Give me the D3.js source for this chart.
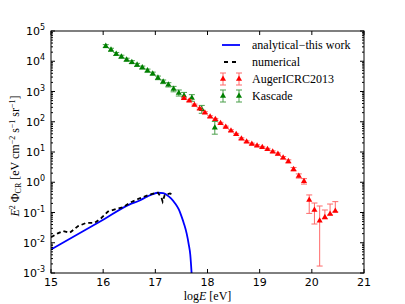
<!DOCTYPE html>
<html>
<head>
<meta charset="utf-8">
<script src="https://cdn.jsdelivr.net/npm/d3@7"></script>
<style>
    body { margin: 0; background: #fff; }
    svg text { fill: #000; }
    .tickLabel { font-family: "DejaVu Sans", sans-serif; font-size: 11px; }
    .serif { font-family: "Liberation Serif", "DejaVu Serif", serif; font-size: 12px; }
</style>
</head>
<body>
<div id="chart"></div>
<script>
// ---- data ----
// analytical (this work), log10 E and flux
const analyticalLogE = [15.0, 16.0, 16.5, 16.7, 16.85, 16.95, 17.05, 17.15, 17.22, 17.3, 17.38, 17.45, 17.5, 17.55, 17.6, 17.64, 17.67, 17.695];
const analyticalFlux = [6.0e-3, 5.75e-2, 0.182, 0.25, 0.34, 0.405, 0.45, 0.435, 0.38, 0.295, 0.20, 0.126, 0.076, 0.042, 0.0204, 0.0089, 0.004, 0.001];

// numerical
const numericalLogE = [15.0, 15.13, 15.23, 15.36, 15.52, 15.68, 15.84, 15.96, 16.09, 16.25, 16.38, 16.51, 16.7, 16.9, 17.05, 17.12, 17.14, 17.18, 17.28, 17.34];
const numericalFlux = [0.0151, 0.0204, 0.0245, 0.0214, 0.0355, 0.0457, 0.0457, 0.0646, 0.107, 0.132, 0.148, 0.211, 0.295, 0.398, 0.452, 0.295, 0.229, 0.38, 0.427, 0.38];

// Auger ICRC 2013
const augerLogE = [17.55, 17.65, 17.75, 17.85, 17.95, 18.05, 18.15, 18.25, 18.35, 18.45, 18.55, 18.65, 18.75, 18.85, 18.95,
    19.05, 19.15, 19.25, 19.35, 19.45, 19.55, 19.65, 19.75, 19.85, 19.95, 20.05, 20.15, 20.25, 20.35, 20.45];
const augerFlux = [596, 497, 358, 270, 200, 147, 120, 89.1, 67.0, 50.6, 38.5, 27.5, 21.9, 18.4, 16.2,
    14.3, 12.3, 10.2, 8.59, 6.46, 4.90, 2.68, 1.61, 1.07, 0.259, 0.121, 0.0537, 0.0692, 0.0891, 0.112];
// error half widths in dex
const augerErrUp = [0.03, 0.03, 0.03, 0.03, 0.03, 0.03, 0.03, 0.03, 0.03, 0.03, 0.03, 0.03, 0.03, 0.03, 0.03,
    0.03, 0.03, 0.03, 0.035, 0.04, 0.05, 0.06, 0.07, 0.09, 0.167, 0.231, 0.485, 0.243, 0.33, 0.31];
const augerErrDown = [0.03, 0.03, 0.03, 0.03, 0.03, 0.03, 0.03, 0.03, 0.03, 0.03, 0.03, 0.03, 0.03, 0.03, 0.03,
    0.03, 0.03, 0.03, 0.035, 0.04, 0.05, 0.06, 0.07, 0.09, 0.443, 0.463, 1.50, 0.055, 0.03, 0.03];

// Kascade
const kascadeLogE = [16.05, 16.15, 16.25, 16.35, 16.45, 16.55, 16.65, 16.75, 16.85, 16.95, 17.05, 17.15, 17.25, 17.35, 17.45, 17.55, 17.70, 17.89, 18.14];
const kascadeFlux = [31600, 24000, 17400, 14100, 11200, 9330, 7590, 6170, 4900, 3890, 2820, 2090, 1660, 1200, 891, 724, 610, 257, 63];
const kascadeErr = [0.05, 0.05, 0.05, 0.05, 0.05, 0.05, 0.05, 0.05, 0.05, 0.05, 0.06, 0.06, 0.07, 0.09, 0.1, 0.11, 0.11, 0.13, 0.21];

const xTicks = [15, 16, 17, 18, 19, 20, 21];
const yExponents = [-3, -2, -1, 0, 1, 2, 3, 4, 5];

const legendLabels = ["analytical\u2212this work", "numerical", "AugerICRC2013", "Kascade"];

// ---- chart ----
const width = 405, height = 304;
const margin = {top: 31, right: 41, bottom: 31, left: 51};
const plotW = width - margin.left - margin.right;
const plotH = height - margin.top - margin.bottom;

const svg = d3.select("#chart").append("svg")
    .attr("width", width)
    .attr("height", height)
;
const g = svg.append("g")
    .attr("transform", "translate(" + margin.left + "," + margin.top + ")")
;

const xScale = d3.scaleLinear().domain([15, 21]).range([0, plotW]);
const yScale = d3.scaleLog().domain([1e-3, 1e5]).range([plotH, 0]);

g.append("clipPath").attr("id", "clip")
    .append("rect").attr("width", plotW).attr("height", plotH);

const plot = g.append("g").attr("clip-path", "url(#clip)");

// curves
const line = d3.line()
    .x(d => xScale(d[0]))
    .y(d => yScale(d[1]))
;
plot.append("path")
    .datum(analyticalLogE.map((e, i) => [e, analyticalFlux[i]]))
    .attr("d", line.curve(d3.curveMonotoneX))
    .attr("fill", "none")
    .attr("stroke", "#0000ff")
    .attr("stroke-width", 1.8)
;
plot.append("path")
    .datum(numericalLogE.map((e, i) => [e, numericalFlux[i]]))
    .attr("d", line.curve(d3.curveLinear))
    .attr("fill", "none")
    .attr("stroke", "#000")
    .attr("stroke-width", 1.8)
    .attr("stroke-dasharray", "4,3")
;

const triangle = d3.symbol().type(d3.symbolTriangle).size(16);

function drawErrorPoints(parent, data, color, barColor){
    const pg = parent.selectAll(null)
        .data(data)
        .join("g")
        .attr("transform", d => "translate(" + xScale(d.e) + ",0)")
    ;
    pg.append("line")
        .attr("y1", d => yScale(d.f * Math.pow(10, d.up)))
        .attr("y2", d => yScale(d.f / Math.pow(10, d.down)))
        .attr("stroke", barColor).attr("stroke-width", 1)
    ;
    pg.append("line")
        .attr("x1", -3).attr("x2", 3)
        .attr("y1", d => yScale(d.f * Math.pow(10, d.up)))
        .attr("y2", d => yScale(d.f * Math.pow(10, d.up)))
        .attr("stroke", barColor).attr("stroke-width", 1)
    ;
    pg.append("line")
        .attr("x1", -3).attr("x2", 3)
        .attr("y1", d => yScale(d.f / Math.pow(10, d.down)))
        .attr("y2", d => yScale(d.f / Math.pow(10, d.down)))
        .attr("stroke", barColor).attr("stroke-width", 1)
    ;
    pg.append("path")
        .attr("d", triangle)
        .attr("transform", d => "translate(0," + yScale(d.f) + ")")
        .attr("fill", color)
    ;
}

drawErrorPoints(plot,
    kascadeLogE.map((e, i) => ({e: e, f: kascadeFlux[i], up: kascadeErr[i], down: kascadeErr[i]})),
    "#008000", "#4a9f4a");
drawErrorPoints(plot,
    augerLogE.map((e, i) => ({e: e, f: augerFlux[i], up: augerErrUp[i], down: augerErrDown[i]})),
    "#ff0000", "#ff6a6a");

// frame
g.append("rect")
    .attr("width", plotW).attr("height", plotH)
    .attr("fill", "none").attr("stroke", "#000").attr("stroke-width", 1)
;

// x ticks (inward, bottom and top)
const xt = g.append("g");
xTicks.forEach(t => {
    const x = xScale(t);
    xt.append("line").attr("x1", x).attr("x2", x).attr("y1", plotH).attr("y2", plotH - 4).attr("stroke", "#000");
    xt.append("line").attr("x1", x).attr("x2", x).attr("y1", 0).attr("y2", 4).attr("stroke", "#000");
    xt.append("text").attr("class", "tickLabel")
        .attr("x", x).attr("y", plotH + 13)
        .attr("text-anchor", "middle")
        .text(t)
    ;
});

// y ticks with log minors
const yt = g.append("g");
yExponents.forEach(p => {
    const y = yScale(Math.pow(10, p));
    yt.append("line").attr("x1", 0).attr("x2", 4).attr("y1", y).attr("y2", y).attr("stroke", "#000");
    yt.append("line").attr("x1", plotW).attr("x2", plotW - 4).attr("y1", y).attr("y2", y).attr("stroke", "#000");
    const lab = yt.append("text").attr("class", "tickLabel")
        .attr("x", -6).attr("y", y + 4)
        .attr("text-anchor", "end")
    ;
    lab.append("tspan").text("10");
    lab.append("tspan").attr("dy", -5).attr("font-size", "8px").text(p < 0 ? "-" + (-p) : p);
    if (p < 5) {
        for (let m = 2; m < 10; m++) {
            const ym = yScale(m * Math.pow(10, p));
            yt.append("line").attr("x1", 0).attr("x2", 2).attr("y1", ym).attr("y2", ym).attr("stroke", "#000");
            yt.append("line").attr("x1", plotW).attr("x2", plotW - 2).attr("y1", ym).attr("y2", ym).attr("stroke", "#000");
        }
    }
});

// axis labels
const xl = svg.append("text").attr("class", "serif")
    .attr("x", margin.left + plotW / 2).attr("y", 300)
    .attr("text-anchor", "middle")
;
xl.append("tspan").text("log");
xl.append("tspan").attr("font-style", "italic").text("E");
xl.append("tspan").text(" [eV]");

const yl = svg.append("text").attr("class", "serif")
    .attr("transform", "translate(19," + (margin.top + plotH / 2 + 4) + ") rotate(-90)")
    .attr("text-anchor", "middle")
;
yl.append("tspan").attr("font-style", "italic").text("E");
yl.append("tspan").attr("dy", -4).attr("font-size", "8px").text("2");
yl.append("tspan").attr("dy", 4).text(" \u03A6");
yl.append("tspan").attr("dy", 2).attr("font-size", "8px").text("CR");
yl.append("tspan").attr("dy", -2).text(" [eV cm");
yl.append("tspan").attr("dy", -4).attr("font-size", "8px").text("\u22122");
yl.append("tspan").attr("dy", 4).text(" s");
yl.append("tspan").attr("dy", -4).attr("font-size", "8px").text("\u22121");
yl.append("tspan").attr("dy", 4).text(" sr");
yl.append("tspan").attr("dy", -4).attr("font-size", "8px").text("\u22121");
yl.append("tspan").attr("dy", 4).text("]");

// legend
const leg = svg.append("g").attr("transform", "translate(222,0)");
const rowY = [45, 62, 79, 96];
leg.append("line").attr("x1", 0).attr("x2", 18).attr("y1", rowY[0]).attr("y2", rowY[0])
    .attr("stroke", "#0000ff").attr("stroke-width", 1.8);
leg.append("line").attr("x1", 2).attr("x2", 16).attr("y1", rowY[1]).attr("y2", rowY[1])
    .attr("stroke", "#000").attr("stroke-width", 1.8).attr("stroke-dasharray", "4,4");
[[rowY[2], "#ff0000", "#ff6a6a"], [rowY[3], "#008000", "#4a9f4a"]].forEach(r => {
    [1, 17].forEach(x0 => {
        const mg = leg.append("g").attr("transform", "translate(" + x0 + "," + r[0] + ")");
        mg.append("line").attr("y1", -6).attr("y2", 6).attr("stroke", r[2]);
        mg.append("line").attr("x1", -3).attr("x2", 3).attr("y1", -6).attr("y2", -6).attr("stroke", r[2]);
        mg.append("line").attr("x1", -3).attr("x2", 3).attr("y1", 6).attr("y2", 6).attr("stroke", r[2]);
        mg.append("path").attr("d", triangle).attr("fill", r[1]);
    });
});
legendLabels.forEach((t, i) => {
    leg.append("text").attr("class", "serif")
        .attr("x", 30).attr("y", rowY[i] + 4)
        .text(t)
    ;
});
</script>
</body>
</html>
